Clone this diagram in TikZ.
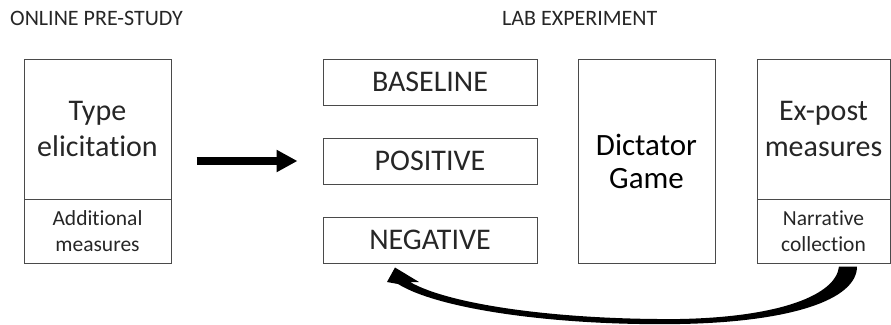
\documentclass[tikz,border=0pt]{standalone}
\usepackage{fontspec}
\setmainfont{Carlito}[Ligatures=NoCommon]
\newfontfamily\gamefont{Carlito}[Ligatures=NoCommon]
\usetikzlibrary{positioning, arrows.meta, calc}
\definecolor{frameGray}{HTML}{4A4A4A}
\definecolor{lightInk}{HTML}{262626}

\begin{document}
\begin{tikzpicture}[x=1pt, y=-1pt,
    phaseLabel/.style={font=\fontsize{22}{26}\selectfont, text=lightInk, anchor=base west, inner sep=0pt},
    bigBox/.style={draw=frameGray, line width=1pt, rectangle, align=center, text=lightInk, font=\fontsize{30}{36}\selectfont, inner sep=0pt},
    smallBox/.style={draw=frameGray, line width=1pt, rectangle, align=center, text=lightInk, font=\fontsize{21.5}{26}\selectfont, inner sep=0pt, minimum height=64pt},
    treatBox/.style={bigBox, minimum width=214pt, minimum height=46pt},
    moveArrow/.style={line width=8pt, -{Triangle[length=21pt, width=21pt]}, shorten <=25pt, shorten >=25pt},
]
\useasboundingbox (0,0) rectangle (891,324);
\node[phaseLabel] (online) at (10,25) {ONLINE PRE-STUDY};
\node[phaseLabel] (lab) at (502,25) {LAB EXPERIMENT};
\node[bigBox, minimum width=147pt, minimum height=140pt] (typeel) at (97.5,129) {Type\\elicitation};
\node[smallBox, minimum width=147pt] (addmeas) at (97.5,231) {Additional\\measures};
\node[treatBox] (base) at (430,82) {BASELINE};
\node[treatBox] (pos) at (430,161) {POSITIVE};
\node[treatBox] (neg) at (430,240) {NEGATIVE};
\node[bigBox, minimum width=137pt, minimum height=204pt, text=black, font=\gamefont\fontsize{31}{33}\selectfont] (dict) at (646.5,161) {Dictator\\Game};
\node[bigBox, minimum width=133pt, minimum height=140pt] (expost) at (823.5,129) {Ex-post\\measures};
\node[smallBox, minimum width=133pt] (narr) at (823.5,231) {Narrative\\collection};
\draw[moveArrow] (typeel.east |- pos.west) -- (pos.west);
\coordinate (tailIn) at ($(narr.south)+(15.5,3)$);
\coordinate (tailOut) at ($(narr.south)+(33.5,3)$);
\coordinate (tip) at ($(neg.south)+(-35,4)$);
\fill (tailOut) .. controls (857,300) and (790,322) .. (680,324)
    .. controls (560,326) and (440,310) .. (398,284)
    -- (387,282) -- (tip) -- (419,282) -- (410,282)
    .. controls (450,305) and (560,320) .. (680,319)
    .. controls (780,317) and (836,295) .. (tailIn) -- cycle;
\end{tikzpicture}
\end{document}
